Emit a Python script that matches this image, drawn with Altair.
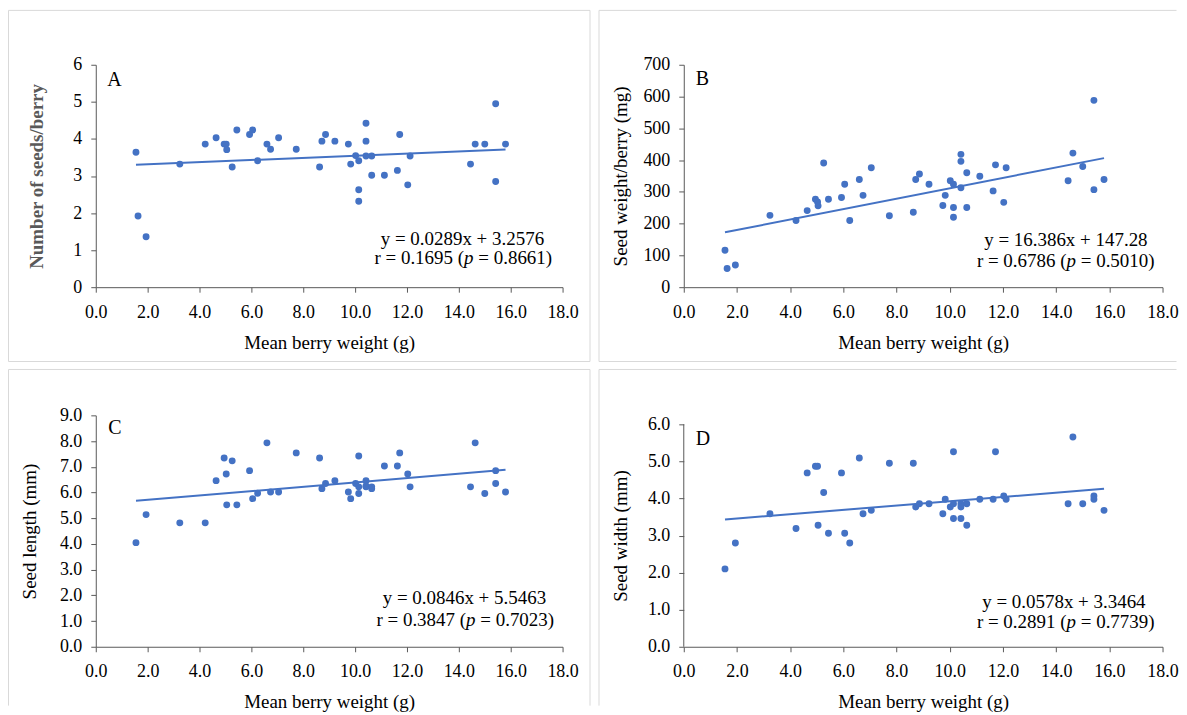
import altair as alt
import pandas as pd

# ---------------- data ----------------
berry_weight = [1.55, 1.63, 1.94, 3.24, 4.22, 4.64, 4.95, 5.03, 5.05, 5.26, 5.44,
                5.93, 6.05, 6.24, 6.60, 6.74, 7.05, 7.73, 8.63, 8.72, 8.86, 9.22,
                9.74, 9.83, 10.02, 10.14, 10.14, 10.14, 10.42, 10.42, 10.42, 10.64,
                10.64, 11.13, 11.63, 11.72, 12.03, 12.12, 14.45, 14.63, 15.00,
                15.42, 15.42, 15.80]

seeds_per_berry = [3.64, 1.92, 1.36, 3.32, 3.86, 4.03, 3.86, 3.86, 3.71, 3.24, 4.24,
                   4.12, 4.24, 3.41, 3.86, 3.72, 4.03, 3.72, 3.24, 3.94, 4.12, 3.94,
                   3.86, 3.32, 3.55, 3.41, 2.63, 2.32, 4.42, 3.94, 3.54, 3.54, 3.02,
                   3.02, 3.15, 4.12, 2.76, 3.54, 3.32, 3.86, 3.86, 4.95, 2.85, 3.86]

seed_weight = [116, 59, 70, 226, 210, 241, 277, 268, 256, 391, 277,
               282, 324, 210, 339, 289, 376, 225, 236, 339, 356, 324,
               257, 289, 335, 324, 251, 220, 418, 396, 313, 360, 251,
               349, 303, 385, 267, 376, 335, 422, 380, 588, 307, 339]

seed_length = [4.05, None, 5.14, 4.82, 4.82, 6.46, 7.34, 6.72, 5.52, 7.23, 5.52,
               6.85, 5.76, 5.97, 7.93, 6.02, 6.02, 7.54, 7.34, 6.15, 6.35, 6.46,
               6.02, 5.76, 6.35, 7.42, 6.22, 5.96, 6.46, 6.22, 6.25, 6.22, 6.15,
               7.03, 7.03, 7.54, 6.72, 6.22, 6.22, 7.93, 5.96, 6.85, 6.35, 6.02]

seed_width = [2.10, None, 2.80, 3.59, 3.19, 4.69, 4.87, 4.87, 3.28, 4.16, 3.06,
              4.69, 3.06, 2.80, 5.09, 3.59, 3.68, 4.95, 4.95, 3.77, 3.86, 3.86,
              3.59, 3.98, 3.77, 5.26, 3.86, 3.46, 3.86, 3.77, 3.46, 3.86, 3.28,
              3.98, 3.98, 5.26, 4.07, 3.98, 3.86, 5.66, 3.86, 4.07, 3.98, 3.68]

x_ticks = [0, 2, 4, 6, 8, 10, 12, 14, 16, 18]
y_ticks_a = [0, 1, 2, 3, 4, 5, 6]
y_ticks_b = [0, 100, 200, 300, 400, 500, 600, 700]
y_ticks_c = [0, 1, 2, 3, 4, 5, 6, 7, 8, 9]
y_ticks_d = [0, 1, 2, 3, 4, 5, 6]

panel_letters = ["A", "B", "C", "D"]
y_titles = ["Number of seeds/berry", "Seed weight/berry (mg)",
            "Seed length (mm)", "Seed width (mm)"]
slopes = [0.0289, 16.386, 0.0846, 0.0578]
intercepts = [3.2576, 147.28, 5.5463, 3.3464]
equations = ["y = 0.0289x + 3.2576", "y = 16.386x + 147.28",
             "y = 0.0846x + 5.5463", "y = 0.0578x + 3.3464"]
r_values = ["0.1695", "0.6786", "0.3847", "0.2891"]
p_values = ["0.8661", "0.5010", "0.7023", "0.7739"]

# ---------------- styling ----------------
FONT = "Liberation Serif"
BLUE = "#4472C4"
AXIS_COL = "#595959"
BORDER = "#D9D9D9"
one = pd.DataFrame({"k": [0]})


def text_piece(txt, x, y, align="right", italic=False, size=19):
    return alt.Chart(one).mark_text(
        font=FONT, fontSize=size, align=align, baseline="middle",
        fontStyle="italic" if italic else "normal", color="black"
    ).encode(x=alt.value(x), y=alt.value(y), text=alt.value(txt))


def rule(x1, y1, x2, y2):
    return alt.Chart(one).mark_rule(color=BORDER, strokeWidth=1).encode(
        x=alt.value(x1), y=alt.value(y1), x2=alt.value(x2), y2=alt.value(y2))


def panel(i, yvals, yticks, yfmt, ydomain, width, height, eq_pos, borders,
          title_pad, title_bold=False, draw_y_domain=False, title_y=None):
    df = pd.DataFrame({"x": berry_weight, "y": yvals})
    common = dict(labelFont=FONT, labelFontSize=18, labelColor="black",
                  labelOverlap=False, labelFlush=False,
                  titleFont=FONT, titleFontSize=19, titleColor="black",
                  titleFontWeight="normal", grid=False,
                  domainColor=AXIS_COL, tickColor=AXIS_COL, tickSize=5)
    yaxis_kw = dict(common, values=yticks, format=yfmt, title=y_titles[i],
                    titlePadding=title_pad, labelPadding=9,
                    domain=not draw_y_domain)
    if title_bold:
        yaxis_kw.update(titleFontWeight="bold", titleColor="#595959")
    if title_y is not None:
        yaxis_kw.update(titleY=title_y)
    xenc = alt.X("x:Q", scale=alt.Scale(domain=[0, 18], nice=False, zero=False),
                 axis=alt.Axis(**dict(common, values=x_ticks, format=".1f",
                                      title="Mean berry weight (g)",
                                      labelPadding=11, titlePadding=12)))
    yenc = alt.Y("y:Q", scale=alt.Scale(domain=ydomain, nice=False, zero=False),
                 axis=alt.Axis(**yaxis_kw))
    base = alt.Chart(df)
    pts = base.mark_circle(size=48, color=BLUE, opacity=1).encode(x=xenc, y=yenc)
    fit = base.transform_aggregate(
        xmin="min(x)", xmax="max(x)"
    ).transform_fold(["xmin", "xmax"], as_=["end", "x"]).transform_calculate(
        y=f"{slopes[i]} * datum.x + {intercepts[i]}"
    ).mark_line(color=BLUE, strokeWidth=2).encode(x=xenc, y=yenc)
    layers = [rule(*b) for b in borders] + [pts, fit]
    if draw_y_domain:
        ax = pd.DataFrame({"y": [yticks[0]], "y2": [yticks[-1]]})
        layers.append(alt.Chart(ax).mark_rule(color=AXIS_COL, strokeWidth=1).encode(
            x=alt.value(0), y=yenc, y2="y2:Q"))
    (lx, ly), (r1x, r1y), (r2x, r2y) = eq_pos
    layers.append(text_piece(panel_letters[i], lx, ly, align="left", size=20))
    layers.append(text_piece(equations[i], r1x, r1y))
    tail = " = " + p_values[i] + ")"
    w_tail = 19 * (0.25 + 0.564 + 0.25 + 0.5 * 5 + 0.25 + 0.333)
    w_p = 19 * 0.5
    layers.append(text_piece(tail, r2x, r2y))
    layers.append(text_piece("p", r2x - w_tail, r2y, italic=True))
    layers.append(text_piece("r = " + r_values[i] + " (", r2x - w_tail - w_p, r2y))
    return alt.layer(*layers).properties(width=width, height=height)


WA, WB = 468, 480
H1, H2 = 223, 232

pa = panel(0, seeds_per_berry, y_ticks_a, "d", [0, 6], WA, H1,
           [(11.5, 15), (449.5, 174.5), (457.5, 193.5)],
           [(-87.5, -54.5, 495.5, -54.5), (-87.5, 297.5, 495.5, 297.5),
            (-87.5, -54.5, -87.5, 297.5), (495.5, -54.5, 495.5, 297.5)],
           title_pad=26, title_bold=True)
pb = panel(1, seed_weight, y_ticks_b, "d", [0, 700], WB, H1,
           [(12, 14), (465, 175.5), (472, 196.5)],
           [(-85, -54.5, 494, -54.5), (-85, 297.5, 494, 297.5),
            (-85, -54.5, -85, 297.5)],
           title_pad=12)
pc = panel(2, seed_length, y_ticks_c, ".1f", [0, 9], WA, H2,
           [(12.5, 13), (451.5, 183), (459.5, 205)],
           [(-87.5, -46, 495.5, -46), (-87.5, -46, -87.5, 291),
            (495.5, -46, 495.5, 291)],
           title_pad=20)
pd_ = panel(3, seed_width, y_ticks_d, ".1f", [0, 6 * H2 / 223], WB, H2,
            [(12, 24), (463, 187), (472, 207)],
            [(-85, -46, 494, -46), (-85, -46, -85, 291)],
            title_pad=17, draw_y_domain=True, title_y=120.5)

chart = alt.concat(pa, pb, pc, pd_, columns=2, bounds="flush", align="each",
                   spacing={"row": 128.5, "column": 121.5}).properties(
    padding={"left": 0, "top": 1, "right": 0, "bottom": 0}
).configure_view(strokeWidth=0)

chart.save("out.html", embed_options={"renderer": "svg", "actions": False})
